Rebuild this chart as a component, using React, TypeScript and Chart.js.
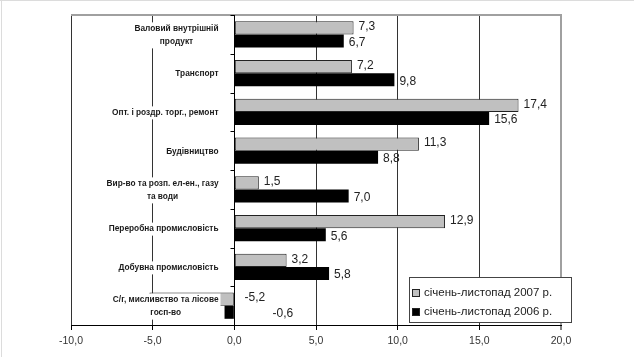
import React, { useEffect, useRef } from "react";
import { Chart, registerables } from "chart.js";

Chart.register(...registerables);

const categories: string[][] = [
  ["Валовий внутрішній", "продукт"],
  ["Транспорт"],
  ["Опт. і роздр. торг., ремонт"],
  ["Будівництво"],
  ["Вир-во та розп. ел-ен., газу", "та води"],
  ["Переробна промисловість"],
  ["Добувна промисловість"],
  ["С/г, мисливство та лісове", "госп-во"],
];
const values2007 = [7.3, 7.2, 17.4, 11.3, 1.5, 12.9, 3.2, -5.2];
const values2006 = [6.7, 9.8, 15.6, 8.8, 7.0, 5.6, 5.8, -0.6];
const seriesNames = ["січень-листопад 2007 р.", "січень-листопад 2006 р."];
const xMin = -10;
const xMax = 20;
const xStep = 5;

const FONT = '"Liberation Sans", Arial, sans-serif';
const seriesFill = ["#c0c0c0", "#000000"];
const negLabelOffset = [10, 38];
const labelDy = [-1, 1.5];

const fmt = (v: number) => v.toFixed(1).replace(".", ",");

const overlay = {
  id: "overlay",
  afterDatasetsDraw(chart: any) {
    const { ctx, chartArea: a, scales } = chart;
    const x = scales.x;
    const y = scales.y;
    ctx.save();
    // faint image edge lines
    ctx.strokeStyle = "#dcdcdc";
    ctx.lineWidth = 1;
    ctx.beginPath();
    ctx.moveTo(0, 0.5);
    ctx.lineTo(chart.width, 0.5);
    ctx.moveTo(1.5, 0);
    ctx.lineTo(1.5, chart.height);
    ctx.stroke();
    // top border
    ctx.strokeStyle = "#a0a0a0";
    ctx.lineWidth = 2;
    ctx.beginPath();
    ctx.moveTo(a.left, a.top);
    ctx.lineTo(a.right + 1, a.top);
    ctx.stroke();
    // zero axis
    const x0 = Math.round(x.getPixelForValue(0)) + 0.5;
    ctx.strokeStyle = "#000";
    ctx.lineWidth = 1;
    ctx.beginPath();
    ctx.moveTo(x0, a.top);
    ctx.lineTo(x0, a.bottom);
    const n = categories.length;
    const h = (a.bottom - a.top) / n;
    for (let i = 0; i <= n; i++) {
      const yy = Math.round(a.top + i * h) + 0.5;
      ctx.moveTo(x0 - 4, yy);
      ctx.lineTo(x0, yy);
    }
    ctx.stroke();
    // category labels with white background
    ctx.font = `bold 8.3px ${FONT}`;
    ctx.textBaseline = "middle";
    ctx.textAlign = "center";
    const lineH = 13;
    const right = x0 - 16;
    categories.forEach((lines, i) => {
      const cy = y.getPixelForValue(i) + 1;
      const w = Math.max(...lines.map((l) => ctx.measureText(l).width));
      const cx = right - w / 2;
      const top = cy - (lines.length * lineH) / 2;
      ctx.fillStyle = "#fff";
      ctx.fillRect(right - w - 2, top, w + 4, lines.length * lineH);
      ctx.fillStyle = "#1a1a1a";
      lines.forEach((l, j) => ctx.fillText(l, cx, top + lineH * (j + 0.5)));
    });
    // data labels
    ctx.font = `12px ${FONT}`;
    ctx.textAlign = "left";
    ctx.fillStyle = "#222";
    chart.data.datasets.forEach((ds: any, di: number) => {
      const meta = chart.getDatasetMeta(di);
      meta.data.forEach((bar: any, i: number) => {
        const v = ds.data[i];
        const tx = v >= 0 ? bar.x + 5 : x0 + negLabelOffset[di];
        ctx.fillText(fmt(v), tx, bar.y + labelDy[di]);
      });
    });
    // legend
    const lx = 409.5, ly = 277.5, lw = 162, lh = 45;
    ctx.fillStyle = "#fff";
    ctx.fillRect(lx, ly, lw, lh);
    ctx.strokeStyle = "#444";
    ctx.lineWidth = 1;
    ctx.strokeRect(lx, ly, lw, lh);
    ctx.font = `11.5px ${FONT}`;
    ctx.textBaseline = "middle";
    const rows = [293, 312];
    seriesNames.forEach((name, i) => {
      ctx.fillStyle = seriesFill[i];
      ctx.fillRect(412.5, rows[i] - 3.5, 7, 7);
      ctx.strokeStyle = "#222";
      ctx.strokeRect(412.5, rows[i] - 3.5, 7, 7);
      ctx.fillStyle = "#222";
      ctx.fillText(name, 424, rows[i]);
    });
    ctx.restore();
  },
};

export default function App() {
  const ref = useRef<HTMLCanvasElement>(null);
  useEffect(() => {
    document.body.style.margin = "0";
    const chart = new Chart(ref.current as HTMLCanvasElement, {
      type: "bar",
      data: {
        labels: categories,
        datasets: [
          {
            label: seriesNames[0],
            data: values2007,
            backgroundColor: seriesFill[0],
            borderColor: "#222",
            borderWidth: 1,
            borderSkipped: false,
            categoryPercentage: 0.68,
            barPercentage: 1,
          },
          {
            label: seriesNames[1],
            data: values2006,
            backgroundColor: seriesFill[1],
            borderWidth: 0,
            categoryPercentage: 0.68,
            barPercentage: 1,
          },
        ],
      },
      options: {
        indexAxis: "y",
        animation: false,
        responsive: false,
        maintainAspectRatio: false,
        layout: { padding: { left: 71, right: 73, top: 15, bottom: 0 } },
        plugins: { legend: { display: false }, tooltip: { enabled: false } },
        scales: {
          x: {
            type: "linear",
            min: xMin,
            max: xMax,
            ticks: {
              stepSize: xStep,
              callback: (v: any) => fmt(Number(v)),
              font: { family: FONT, size: 10.5 },
              color: "#333",
              padding: 5,
              maxRotation: 0,
            },
            grid: {
              color: (c: any) => (c.tick && c.tick.value === xMax ? "#a0a0a0" : "#333"),
              lineWidth: (c: any) => (c.tick && c.tick.value === xMax ? 2 : 1),
              tickColor: "#000",
              tickLength: 5,
              tickWidth: 1,
            },
            border: { display: true, color: "#000", width: 1 },
            afterFit: (s: any) => {
              s.height = 32;
            },
          },
          y: {
            type: "category",
            display: false,
            grid: { display: false },
          },
        },
      },
      plugins: [overlay],
    } as any);
    return () => chart.destroy();
  }, []);
  return (
    <div style={{ width: 634, height: 357, position: "relative", background: "#fff" }}>
      <canvas ref={ref} width={634} height={357} style={{ display: "block" }} />
    </div>
  );
}
